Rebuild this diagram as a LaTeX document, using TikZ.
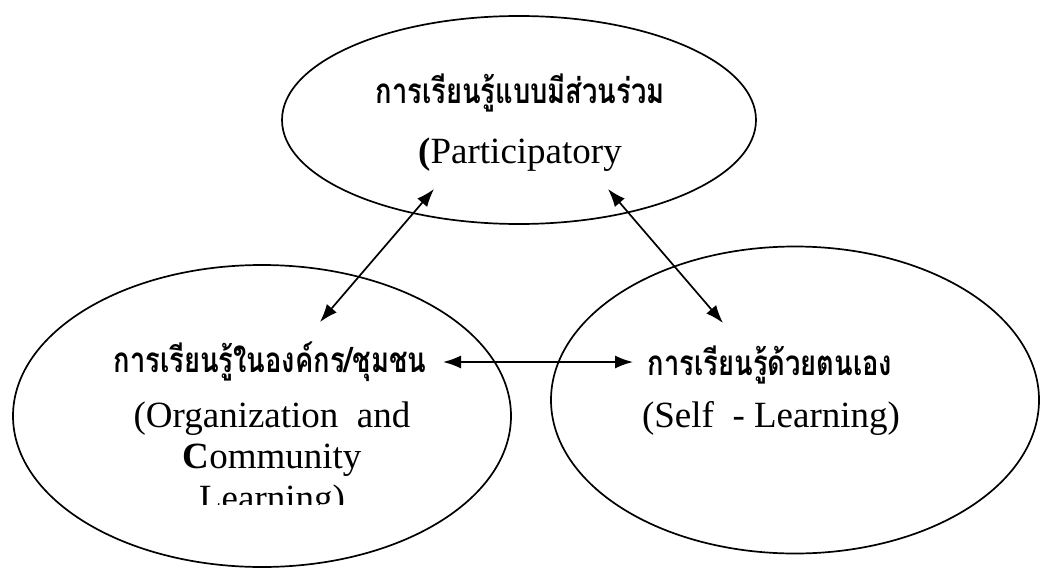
\documentclass[tikz,border=0pt]{standalone}
\usepackage{fontspec}
\setmainfont{Liberation Serif}
\newfontfamily\thaifont[Script=Thai,FakeStretch=0.78]{Loma}
\usetikzlibrary{shapes.geometric,arrows.meta}
\begin{document}
\begin{tikzpicture}[x=1pt,y=-1pt,
  bubble/.style={draw,ellipse,line width=1.7pt,inner sep=0pt},
  thai/.style={font=\thaifont\bfseries\fontsize{35}{40}\selectfont,inner sep=0pt,anchor=base},
  latin/.style={font=\fontsize{37}{40}\selectfont,inner sep=0pt,anchor=base},
  link/.style={{Latex[length=18pt,width=13pt]}-{Latex[length=18pt,width=13pt]},line width=1.7pt}]
\useasboundingbox[fill=white] (0,0) rectangle (1040,567);
% ellipses
\node[bubble,minimum width=474pt,minimum height=208pt] (top) at (519,120) {};
\node[bubble,minimum width=498pt,minimum height=302pt] (left) at (262,416) {};
\node[bubble,minimum width=488pt,minimum height=307pt] (right) at (795,400) {};
% texts
\node[thai] (t1) at (520,103) {การเรียนรู้แบบมีส่วนร่วม};
\node[latin] (t2) at (520,163) {{\bfseries(}Participatory};
\node[thai] (l1) at (270,372) {การเรียนรู้ในองค์กร/ชุมชน};
\node[latin] (l2) at (272,427) {(Organization\ \ and};
\node[latin] (l3) at (272,468) {{\bfseries C}ommunity};
\begin{scope}
  \clip (100,470) rectangle (450,504);
  \node[latin] (l4) at (272,510) {Learning)};
\end{scope}
\node[thai] (r1) at (770,375) {การเรียนรู้ด้วยตนเอง};
\node[latin] (r2) at (771,427) {(Self\ \ - Learning)};
% connectors
\coordinate (a1s) at (434,189);
\coordinate (a1e) at (320,322);
\coordinate (a2s) at (608,189);
\coordinate (a2e) at (723,323);
\coordinate (a3s) at (443,362);
\coordinate (a3e) at (633,362);
\draw[link] (a1s) -- (a1e);
\draw[link] (a2s) -- (a2e);
\draw[link] (a3s) -- (a3e);
\end{tikzpicture}
\end{document}
